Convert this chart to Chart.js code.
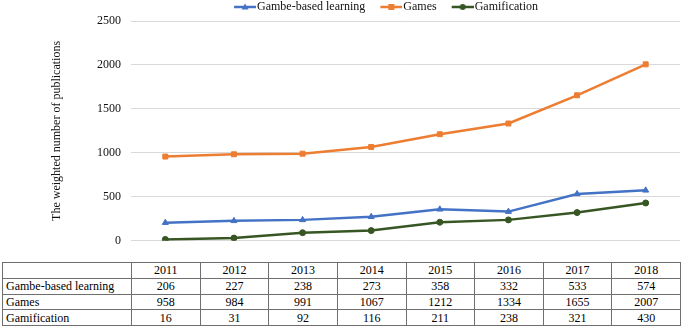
<!DOCTYPE html>
<html>
<head>
<meta charset="utf-8">
<script src="https://cdn.jsdelivr.net/npm/chart.js@4"></script>
<style>
  html,body{margin:0;padding:0;background:#fff;}
  #wrap{position:relative;width:685px;height:327px;overflow:hidden;}
  #chartBox{position:absolute;left:0;top:0;width:685px;height:258px;}
  #tbl{position:absolute;left:2px;top:262px;border-collapse:collapse;table-layout:fixed;
       font-family:'Liberation Serif',serif;font-size:12px;color:#000;}
  #tbl td{border:1px solid #6f6f6f;height:14.75px;line-height:14px;padding:0;text-align:center;white-space:nowrap;overflow:hidden;}
  #tbl td:first-child{text-align:left;padding-left:3px;}
</style>
</head>
<body>
<div id="wrap">
  <div id="chartBox"><canvas id="c"></canvas></div>
  <table id="tbl"></table>
</div>
<script>
// 연도 / 시리즈 값
const years=['2011','2012','2013','2014','2015','2016','2017','2018'];
const gblValues=[206,227,238,273,358,332,533,574];
const gamesValues=[958,984,991,1067,1212,1334,1655,2007];
const gamificationValues=[16,31,92,116,211,238,321,430];
const seriesNames=['Gambe-based learning','Games','Gamification'];
const yTicks=[0,500,1000,1500,2000,2500];

const FONT="'Liberation Serif', serif";
const COLORS=['#4472C4','#ED7D31','#375623'];
const STYLES=['triangle','rect','circle'];

Chart.defaults.font.family=FONT;
Chart.defaults.font.size=12;
Chart.defaults.color='#111';

// 범례 아이콘: 선 + 마커 (왼쪽은 여백)
function legendIcon(color,style){
  const cv=document.createElement('canvas');
  cv.width=42; cv.height=10;
  const g=cv.getContext('2d');
  g.strokeStyle=color; g.fillStyle=color; g.lineWidth=2.5;
  g.beginPath(); g.moveTo(20,5); g.lineTo(42,5); g.stroke();
  const cx=31,cy=5;
  g.beginPath();
  if(style==='triangle'){ g.moveTo(cx,cy-3.5); g.lineTo(cx+3.5,cy+2.5); g.lineTo(cx-3.5,cy+2.5); g.closePath(); }
  else if(style==='rect'){ g.rect(cx-3,cy-3,6,6); }
  else { g.arc(cx,cy,3,0,Math.PI*2); }
  g.fill();
  return cv;
}

const allValues=[gblValues,gamesValues,gamificationValues];
const datasets=allValues.map((vals,i)=>({
  label:seriesNames[i],
  data:vals,
  borderColor:COLORS[i],
  backgroundColor:COLORS[i],
  borderWidth:2.5,
  pointStyle:STYLES[i],
  pointRadius:STYLES[i]==='circle'?3:3.5,
  pointBorderWidth:1,
  tension:0,
  _icon:legendIcon(COLORS[i],STYLES[i])
}));

// 범례 위치 보정 (원본처럼 오른쪽으로)
const legendShift={
  id:'legendShift',
  afterLayout(c){
    if(!c.legend) return;
    c.legend.left+=36; c.legend.right+=36;
    c.legend.top+=2; c.legend.bottom+=2;
  }
};

const chart=new Chart(document.getElementById('c'),{
  type:'line',
  data:{labels:years,datasets},
  options:{
    responsive:true,maintainAspectRatio:false,animation:false,
    layout:{padding:{left:0,right:0,top:-1,bottom:7}},
    plugins:{
      tooltip:{enabled:false},
      legend:{
        position:'top',
        labels:{
          font:{family:FONT,size:12},color:'#111',
          usePointStyle:true,pointStyleWidth:32,padding:0,
          generateLabels(ch){
            return ch.data.datasets.map((d,i)=>({
              text:d.label,pointStyle:d._icon,fillStyle:d.borderColor,
              strokeStyle:d.borderColor,lineWidth:0,hidden:false,datasetIndex:i,fontColor:'#111'
            }));
          }
        }
      }
    },
    scales:{
      x:{display:false,offset:true},
      y:{
        min:0,max:2500,
        afterBuildTicks(s){ s.ticks=yTicks.map(v=>({value:v})); },
        afterFit(s){ s.width=131; },
        border:{display:false},
        grid:{color:'#d9d9d9',lineWidth:1,drawTicks:false},
        ticks:{font:{family:FONT,size:12},color:'#111',padding:10,callback:v=>String(v)},
        title:{display:true,text:'The weighted number of publications',
               font:{family:FONT,size:12},color:'#111',padding:{top:50,bottom:0}}
      }
    }
  },
  plugins:[legendShift]
});

// 데이터 표 (x 축 눈금 폭에 맞춤)
function buildTable(){
  const xs=chart.scales.x;
  const colW=xs.width/years.length;
  const firstW=xs.left-2;
  const tbl=document.getElementById('tbl');
  let html='<colgroup><col style="width:'+firstW+'px">';
  years.forEach(()=>{ html+='<col style="width:'+colW+'px">'; });
  html+='</colgroup><tr><td></td>'+years.map(y=>'<td>'+y+'</td>').join('')+'</tr>';
  allValues.forEach((vals,i)=>{
    html+='<tr><td>'+seriesNames[i]+'</td>'+vals.map(v=>'<td>'+v+'</td>').join('')+'</tr>';
  });
  tbl.innerHTML=html;
  tbl.style.width=(firstW+xs.width)+'px';
}
buildTable();
if(document.fonts&&document.fonts.ready){ document.fonts.ready.then(()=>chart.update()); }
</script>
</body>
</html>
